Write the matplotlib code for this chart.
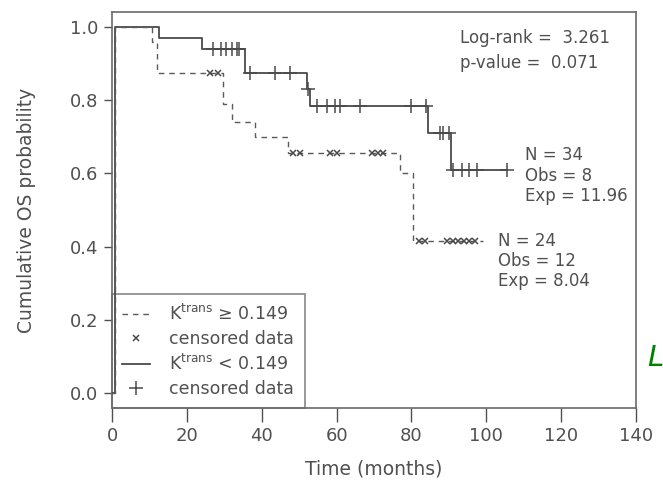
import matplotlib
matplotlib.use("Agg")
import matplotlib.pyplot as plt
from matplotlib.lines import Line2D

plt.rcParams['font.family'] = ['DejaVu Sans']

# ---- data ----
# Kaplan-Meier steps, K^trans < 0.149 (solid)
low_times = [0, 0.8, 12.5, 24, 35.5, 52, 53, 84.5, 90.5, 105.5]
low_surv = [0, 1.0, 0.97, 0.94, 0.875, 0.83, 0.785, 0.71, 0.61, 0.61]
low_cens_t = [27, 29, 30.5, 32, 33.5, 34, 37, 43.5, 47.5, 52.3,
              54.8, 57.4, 59.6, 61, 66.3, 80, 84, 87.5, 88.5, 90,
              91, 93.5, 95.5, 97.5, 105.5]
low_cens_s = [0.94, 0.94, 0.94, 0.94, 0.94, 0.94, 0.875, 0.875, 0.875, 0.83,
              0.785, 0.785, 0.785, 0.785, 0.785, 0.785, 0.785, 0.71, 0.71, 0.71,
              0.61, 0.61, 0.61, 0.61, 0.61]

# K^trans >= 0.149 (dashed)
high_times = [0, 0.8, 10.7, 12, 29.7, 32, 38.2, 47, 77, 80.5, 99]
high_surv = [0, 1.0, 0.958, 0.875, 0.79, 0.74, 0.70, 0.657, 0.60, 0.415, 0.415]
high_cens_t = [26.2, 28.3, 48.4, 50.2, 58.2, 60, 69.5, 71, 72.4,
               82, 83.5, 89.5, 91, 92.5, 94, 95.5, 97]
high_cens_s = [0.875, 0.875, 0.657, 0.657, 0.657, 0.657, 0.657, 0.657, 0.657,
               0.415, 0.415, 0.415, 0.415, 0.415, 0.415, 0.415, 0.415]

x_ticks = [0, 20, 40, 60, 80, 100, 120, 140]
y_ticks = [0.0, 0.2, 0.4, 0.6, 0.8, 1.0]
y_tick_labels = ['0.0', '0.2', '0.4', '0.6', '0.8', '1.0']

stats_text = "Log-rank =  3.261\np-value =  0.071"
low_text = "N = 34\nObs = 8\nExp = 11.96"
high_text = "N = 24\nObs = 12\nExp = 8.04"
legend_labels = ["K$^{\\mathrm{trans}}$ \u2265 0.149", "censored data",
                 "K$^{\\mathrm{trans}}$ < 0.149", "censored data"]

# ---- drawing ----
W, H = 663, 482
fig = plt.figure(figsize=(W / 100, H / 100), dpi=100)
ax = fig.add_axes([112 / W, 1 - 408 / H, 524 / W, 396 / H])

ink = '#4a4a4a'
txt = '#505050'

ax.plot(low_times, low_surv, drawstyle='steps-post', color=ink, lw=1.3, zorder=3)
ax.plot(high_times, high_surv, drawstyle='steps-post', color='#5a5a5a', lw=1.0,
        linestyle=(0, (4, 3.5)), zorder=3)
ax.plot(low_cens_t, low_cens_s, linestyle='none', marker='+', markersize=10,
        markeredgewidth=1.1, color=ink, zorder=3)
ax.plot(high_cens_t, high_cens_s, linestyle='none', marker='x', markersize=5,
        markeredgewidth=1.1, color=ink, zorder=3)

ax.set_xlim(0, 140)
ax.set_ylim(-0.041, 1.041)
ax.set_xticks(x_ticks)
ax.set_yticks(y_ticks)
ax.set_yticklabels(y_tick_labels)
ax.tick_params(axis='x', direction='out', length=10, width=1, pad=4,
               labelsize=13, colors=txt)
ax.tick_params(axis='y', direction='out', length=6, width=1, pad=4,
               labelsize=13, colors=txt)
for sp in ax.spines.values():
    sp.set_color('#6a6a6a')
    sp.set_linewidth(1.2)

ax.set_xlabel('Time (months)', fontsize=13.5, color=txt, labelpad=10)
ax.set_ylabel('Cumulative OS probability', fontsize=13.5, color=txt, labelpad=24)

ax.text(93, 0.936, stats_text, fontsize=12, color=txt, va='center',
        linespacing=1.5)
ax.text(110.3, 0.594, low_text, fontsize=12, color=txt, va='center',
        linespacing=1.15)
ax.text(103.1, 0.36, high_text, fontsize=12, color=txt, va='center',
        linespacing=1.15)

handles = [
    Line2D([], [], color='#5a5a5a', lw=1.0, linestyle=(0, (4, 3.5))),
    Line2D([], [], color=ink, linestyle='none', marker='x', markersize=5,
           markeredgewidth=1.1),
    Line2D([], [], color=ink, lw=1.3),
    Line2D([], [], color=ink, linestyle='none', marker='+', markersize=10,
           markeredgewidth=1.1),
]
leg = ax.legend(handles, legend_labels, loc='lower left', bbox_to_anchor=(0, 0),
                borderaxespad=0, fontsize=12.5, frameon=True, fancybox=False,
                edgecolor='#6a6a6a', handlelength=1.6, handletextpad=1.1,
                labelspacing=0.33, borderpad=0.6)
leg.get_frame().set_linewidth(1.2)
for t in leg.get_texts():
    t.set_color(txt)
leg.set_zorder(1)

fig.text(647 / W, 1 - 366 / H, 'L', color='green', fontsize=21, style='italic')

fig.savefig('out.png', dpi=100)
